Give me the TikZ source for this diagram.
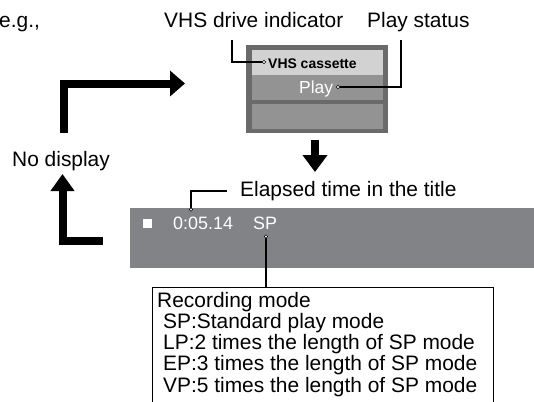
\documentclass[tikz,border=0pt]{standalone}
\usepackage{fontspec}
\setmainfont{Liberation Sans}
\usetikzlibrary{arrows.meta}
\definecolor{bargray}{HTML}{828387}
\definecolor{boxdark}{HTML}{6A6A6A}
\definecolor{boxlight}{HTML}{D2D2D2}
\definecolor{boxmid}{HTML}{939393}
\begin{document}
\begin{tikzpicture}[x=1bp,y=-1bp,
  lbl/.style={inner sep=0, anchor=base west, font=\fontsize{21}{24}\selectfont},
  boxtxt/.style={inner sep=0, anchor=base west, font=\fontsize{21}{24}\selectfont},
  bartxt/.style={inner sep=0, anchor=base west, text=white, font=\fontsize{18}{20}\selectfont},
  leader/.style={line width=1.3bp, black},
  enddot/.style={circle, fill=white, draw=black, line width=0.6bp, inner sep=0, minimum size=3.6bp},
  bigarrow/.style={line width=8bp, miter limit=10, line join=miter, -{Triangle[length=15bp,width=25bp]}},
  panel/.style={inner sep=0, anchor=north west, draw=none}]
\useasboundingbox (0,0) rectangle (534,401);

% labels
\node[lbl] (eg) at (-1,27) {e.g.,};
\node[lbl] (vhsl) at (164,27) {VHS drive indicator};
\node[lbl] (playl) at (367,27) {Play status};
\node[lbl] (nodisp) at (12,166) {No display};
\node[lbl] (elap) at (240,196) {Elapsed time in the title};

% small display box
\node[panel, fill=boxdark, minimum width=142bp, minimum height=88bp] (disp) at (246,45) {};
\node[panel, fill=boxlight, minimum width=131bp, minimum height=25bp] (row1) at (252,50) {};
\node[panel, fill=boxmid, minimum width=131bp, minimum height=25bp] (row2) at (252,75) {};
\node[panel, fill=boxmid, minimum width=131bp, minimum height=25bp] (row3) at (252,103.5) {};
\node[inner sep=0, anchor=base west, font=\fontsize{14}{16}\selectfont\bfseries] (cass) at (268,68) {VHS cassette};
\node[inner sep=0, anchor=base west, text=white, font=\fontsize{17.5}{20}\selectfont] (play) at (299,93) {Play};

% bar
\node[panel, fill=bargray, minimum width=420bp, minimum height=60bp] (bar) at (130,208) {};
\node[fill=white, minimum size=9bp, inner sep=0] (sq) at (147.5,223.5) {};
\node[bartxt] (time) at (173,229.5) {0:05.14};
\node[bartxt] (sp) at (253,229.5) {SP};

% recording mode box
\node[panel, draw=black, line width=1.3bp, minimum width=341bp, minimum height=130bp] (rec) at (152,287) {};
\node[boxtxt] (r0) at (157,307) {Recording mode};
\node[boxtxt] (r1) at (163,328.3) {SP:Standard play mode};
\node[boxtxt] (r2) at (163,349.6) {LP:2 times the length of SP mode};
\node[boxtxt] (r3) at (163,370.9) {EP:3 times the length of SP mode};
\node[boxtxt] (r4) at (163,392.2) {VP:5 times the length of SP mode};

% leaders
\coordinate (v0) at (232,40);
\coordinate (v1) at (264,62);
\draw[leader] (v0) |- (v1);
\node[enddot] at (v1) {};
\coordinate (p0) at (401,40);
\coordinate (p1) at (338,87);
\draw[leader] (p0) |- (p1);
\node[enddot] at (p1) {};
\coordinate (e0) at (227,191);
\coordinate (e1) at (191,209.5);
\draw[leader] (e0) -| (e1);
\node[enddot] at (e1) {};
\coordinate (s0) at (266,236.5);
\draw[leader] (s0) -- (s0 |- rec.north);
\node[enddot] at (s0) {};

% big arrows
\coordinate (a1s) at (63.5,133);
\coordinate (a1c) at (63.5,83.5);
\coordinate (a1e) at (185,83.5);
\draw[bigarrow] (a1s) -- (a1c) -- (a1e);
\coordinate (a2s) at (103,241);
\coordinate (a2c) at (62.5,241);
\coordinate (a2e) at (62.5,174);
\draw[bigarrow, -{Triangle[length=17bp,width=23bp]}] (a2s) -- (a2c) -- (a2e);
\coordinate (a3s) at (315,140);
\coordinate (a3e) at (315,172);
\draw[bigarrow, -{Triangle[length=17bp,width=24bp]}] (a3s) -- (a3e);
\end{tikzpicture}
\end{document}
